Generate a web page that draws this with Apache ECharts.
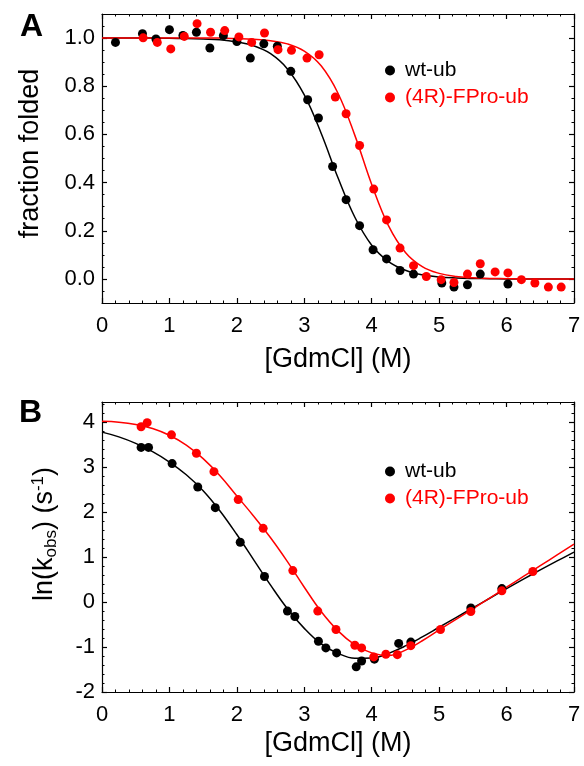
<!DOCTYPE html>
<html><head><meta charset="utf-8">
<script src="https://cdn.jsdelivr.net/npm/echarts@6/dist/echarts.min.js"></script>
<style>html,body{margin:0;padding:0;background:#fff}#c{width:584px;height:766px}</style>
</head><body><div id="c"></div>
<script>
// ---------- tick labels ----------
const xTicks = [0, 1, 2, 3, 4, 5, 6, 7];
const aTicks = [0, 0.2, 0.4, 0.6, 0.8, 1.0];
const bTicks = [-2, -1, 0, 1, 2, 3, 4];

// ---------- Panel A: fraction folded ----------
const aWtX = [0.2,0.6,0.8,1.0,1.2,1.4,1.6,1.8,2.0,2.2,2.4,2.6,2.8,3.05,3.21,3.42,3.62,3.82,4.02,4.22,4.42,4.62,5.04,5.22,5.42,5.61,6.02];
const aWtY = [0.982,1.018,0.996,1.035,1.011,1.024,0.959,1.010,0.986,0.917,0.976,0.966,0.862,0.744,0.668,0.467,0.329,0.221,0.121,0.083,0.035,0.020,-0.017,-0.034,-0.024,0.020,-0.021];
const aFpX = [0.61,0.82,1.02,1.22,1.41,1.61,1.82,2.03,2.22,2.41,2.61,2.81,3.04,3.22,3.46,3.62,3.82,4.03,4.22,4.42,4.62,4.81,5.03,5.22,5.42,5.61,5.83,6.02,6.22,6.42,6.62,6.81];
const aFpY = [1.001,0.982,0.955,1.007,1.060,1.024,1.031,1.005,0.982,1.021,0.952,0.949,0.917,0.931,0.755,0.686,0.554,0.373,0.245,0.128,0.055,0.010,-0.003,-0.015,0.020,0.063,0.029,0.025,-0.003,-0.017,-0.034,-0.034];

// fitted curves at these denaturant values
const fitX = [0,0.25,0.5,0.75,1,1.25,1.5,1.75,2,2.25,2.5,2.75,3,3.25,3.5,3.75,4,4.25,4.5,4.75,5,5.25,5.5,5.75,6,6.25,6.5,6.75,7];
const aWtFit = [1,1,1,1,0.999,0.998,0.996,0.993,0.984,0.968,0.935,0.872,0.764,0.605,0.420,0.256,0.140,0.072,0.036,0.017,0.008,0.004,0.002,0.001,0,0,0,0,0];
const aFpFit = [1,1,1,1,1,1,1,1,0.998,0.995,0.989,0.976,0.946,0.885,0.771,0.596,0.392,0.220,0.110,0.051,0.023,0.010,0.005,0.002,0.001,0,0,0,0];

// ---------- Panel B: ln(kobs) ----------
const bWtX = [0.58,0.69,1.04,1.42,1.68,2.05,2.41,2.75,2.86,3.21,3.32,3.48,3.77,3.85,4.04,4.40,4.58,5.47,5.93];
const bWtY = [3.44,3.44,3.08,2.56,2.10,1.33,0.57,-0.20,-0.32,-0.87,-1.02,-1.13,-1.44,-1.31,-1.27,-0.92,-0.89,-0.13,0.30];
const bFpX = [0.58,0.67,1.03,1.40,1.66,2.02,2.39,2.83,3.20,3.47,3.75,3.85,4.03,4.21,4.38,4.58,5.02,5.47,5.93,6.39];
const bFpY = [3.90,3.99,3.72,3.31,2.90,2.28,1.64,0.70,-0.20,-0.61,-0.96,-1.02,-1.22,-1.16,-1.17,-0.97,-0.61,-0.21,0.25,0.68];
const bWtFit = [3.78,3.675,3.53,3.345,3.115,2.832,2.477,2.027,1.502,0.94,0.377,-0.148,-0.585,-0.93,-1.14,-1.25,-1.245,-1.14,-0.975,-0.775,-0.56,-0.345,-0.13,0.085,0.30,0.51,0.715,0.915,1.11];
const bFpFit = [4.02,4.00,3.95,3.86,3.71,3.49,3.19,2.81,2.36,1.91,1.43,0.90,0.33,-0.21,-0.64,-0.95,-1.13,-1.19,-1.07,-0.86,-0.62,-0.385,-0.15,0.09,0.33,0.57,0.81,1.05,1.29];

const names = ['wt-ub', '(4R)-FPro-ub'];
const colors = ['#000000', '#ff0000'];

// ---------- build ----------
const FONT = '"Liberation Sans", Arial, Helvetica, sans-serif';
function steps(a, b, s) { const r = []; const n = Math.round((b - a) / s); for (let i = 0; i <= n; i++) r.push(+(a + i * s).toFixed(4)); return r; }
function zip(xs, ys) { return xs.map((x, i) => [x, ys[i]]); }

const A_MIN = -0.1, A_MAX = 1.1, B_MIN = -2, B_MAX = 4.45;
const xMinor = steps(0, 7, 0.2);
const aMinor = steps(-0.1, 1.1, 0.05);
const bMinor = steps(-2, 4.4, 0.2);

function axes(dim, gi, min, max, major, minor, fmt, extra) {
  const pos = dim === 'x' ? ['bottom', 'top'] : ['left', 'right'];
  const line = { show: true, onZero: false, lineStyle: { color: '#000', width: 1.2 } };
  const noLine = { show: false, onZero: false };
  const base = { type: 'value', gridIndex: gi, min: min, max: max, splitLine: { show: false }, axisLabel: { show: false } };
  const majTick = { show: true, inside: true, length: 5, customValues: major, lineStyle: { color: '#000', width: 1.2 } };
  const minTick = { show: true, inside: true, length: 2.5, customValues: minor, lineStyle: { color: '#000', width: 1 } };
  return [
    Object.assign({}, base, { position: pos[0], axisLine: line, axisTick: majTick,
      axisLabel: { show: true, customValues: major, formatter: fmt, color: '#000', fontSize: 22, fontFamily: FONT, margin: dim === 'x' ? 12 : 7 } }, extra),
    Object.assign({}, base, { position: pos[0], axisLine: noLine, axisTick: minTick }),
    Object.assign({}, base, { position: pos[1], axisLine: line, axisTick: majTick }),
    Object.assign({}, base, { position: pos[1], axisLine: noLine, axisTick: minTick })
  ];
}

const nameStyle = { fontSize: 27, fontFamily: FONT, color: '#000' };
const xNameA = { name: '[GdmCl] (M)', nameLocation: 'middle', nameGap: 43, nameTextStyle: nameStyle };
const xNameB = { name: '[GdmCl] (M)', nameLocation: 'middle', nameGap: 38, nameTextStyle: nameStyle };

const xAxis = [].concat(
  axes('x', 0, 0, 7, xTicks, xMinor, v => String(v), xNameA),
  axes('x', 1, 0, 7, xTicks, xMinor, v => String(v), xNameB)
);
const yAxis = [].concat(
  axes('y', 0, A_MIN, A_MAX, aTicks, aMinor, v => v.toFixed(1),
    { name: 'fraction folded', nameLocation: 'middle', nameRotate: 90, nameGap: 58, nameTextStyle: Object.assign({}, nameStyle, { padding: [0, 0, 0, 10] }) }),
  axes('y', 1, B_MIN, B_MAX, bTicks, bMinor, v => String(v),
    { name: 'ln(k{sub|obs}) (s{sup|-1})', nameLocation: 'middle', nameRotate: 90, nameGap: 42,
      nameTextStyle: Object.assign({}, nameStyle, { padding: [0, 0, 0, 26],
        rich: { sub: { fontSize: 17, fontFamily: FONT, color: '#000', padding: [14, 0, 0, 0] },
                sup: { fontSize: 17, fontFamily: FONT, color: '#000', padding: [0, 0, 12, 0] } } }) })
);

function lineS(name, xi, yi, data, color) {
  return { name: name, type: 'line', xAxisIndex: xi, yAxisIndex: yi, data: data, showSymbol: false, smooth: 0.4,
    lineStyle: { color: color, width: 1.5 }, itemStyle: { color: color }, silent: true, z: 2 };
}
function scat(name, xi, yi, data, color) {
  return { name: name, type: 'scatter', xAxisIndex: xi, yAxisIndex: yi, data: data, symbol: 'circle', symbolSize: 9,
    itemStyle: { color: color, opacity: 1 }, z: 3 };
}

const series = [
  lineS('wt fit A', 0, 0, zip(fitX, aWtFit), colors[0]),
  lineS('fp fit A', 0, 0, zip(fitX, aFpFit), colors[1]),
  scat(names[0], 0, 0, zip(aWtX, aWtY), colors[0]),
  scat(names[1], 0, 0, zip(aFpX, aFpY), colors[1]),
  lineS('wt fit B', 4, 4, zip(fitX, bWtFit), colors[0]),
  lineS('fp fit B', 4, 4, zip(fitX, bFpFit), colors[1]),
  scat(names[0], 4, 4, zip(bWtX, bWtY), colors[0]),
  scat(names[1], 4, 4, zip(bFpX, bFpY), colors[1])
];

function legend(top) {
  return { orient: 'vertical', left: 380, top: top, icon: 'circle', itemWidth: 20, itemHeight: 10, itemGap: 6,
    selectedMode: false, textStyle: { fontSize: 21, fontFamily: FONT, lineHeight: 21 },
    data: [ { name: names[0], textStyle: { color: colors[0] } }, { name: names[1], textStyle: { color: colors[1] } } ] };
}

const chart = echarts.init(document.getElementById('c'), null, { renderer: 'canvas' });
chart.setOption({
  animation: false,
  backgroundColor: '#ffffff',
  title: [
    { text: 'A', left: 15, top: 6, textStyle: { fontSize: 32, fontWeight: 'bold', fontFamily: FONT, color: '#000' } },
    { text: 'B', left: 14, top: 392, textStyle: { fontSize: 32, fontWeight: 'bold', fontFamily: FONT, color: '#000' } }
  ],
  legend: [legend(55), legend(456)],
  grid: [
    { left: 102, top: 14, width: 472, height: 289, containLabel: false },
    { left: 102, top: 402, width: 472, height: 290, containLabel: false }
  ],
  xAxis: xAxis,
  yAxis: yAxis,
  series: series
});
</script>
</body></html>
